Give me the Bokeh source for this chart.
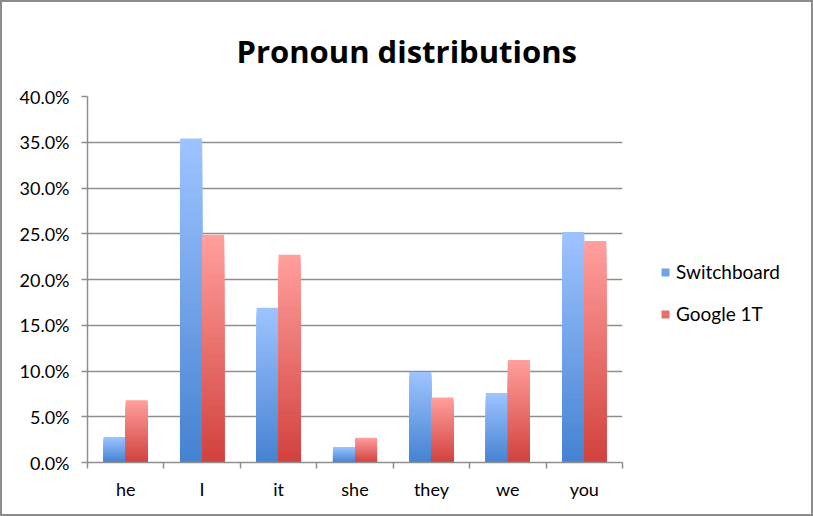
from bokeh.plotting import figure
from bokeh.models import (ColumnDataSource, FixedTicker, Legend, LegendItem, Range1d, Title)
from bokeh.embed import file_html
from bokeh.resources import INLINE

categories = ["he", "I", "it", "she", "they", "we", "you"]
switchboard = [2.8, 35.4, 16.9, 1.7, 9.9, 7.6, 25.2]
google_1t = [6.8, 24.9, 22.7, 2.7, 7.1, 11.2, 24.2]
series_names = ["Switchboard", "Google 1T"]
y_ticks = [0, 5, 10, 15, 20, 25, 30, 35, 40]

BLUE_TOP, BLUE_BOT = (157, 195, 255), (70, 131, 210)
RED_TOP, RED_BOT = (255, 158, 156), (210, 66, 62)
BAR_W = 0.288
N = 40
FONT = "Lato"
GRAY = "#8e8e8e"


def hexc(c):
    return "#%02x%02x%02x" % tuple(int(round(v)) for v in c)


def gradient_source(values, offset, top_c, bot_c):
    xs, tops, cols = [], [], []
    for i in range(N):
        t = i / (N - 1)
        col = hexc([a + (b - a) * t for a, b in zip(top_c, bot_c)])
        for k, v in enumerate(values):
            xs.append(k + 0.5 + offset)
            tops.append(v * (N - i) / N)
            cols.append(col)
    return ColumnDataSource(dict(x=xs, top=tops, color=cols))


p = figure(width=811, height=514, output_backend="svg", toolbar_location=None,
           x_range=Range1d(0, len(categories)), y_range=Range1d(0, 40),
           frame_width=535, frame_height=366,
           min_border_left=85, min_border_top=94, min_border_right=191, min_border_bottom=54)
p.styles = {"border": "2px solid #8c8c8c", "box-sizing": "border-box",
            "width": "813px", "height": "516px", "overflow": "hidden"}

src_b = gradient_source(switchboard, -BAR_W / 2, BLUE_TOP, BLUE_BOT)
src_r = gradient_source(google_1t, BAR_W / 2, RED_TOP, RED_BOT)
rb = p.vbar(x="x", top="top", bottom=0, width=BAR_W, color="color", source=src_b, line_width=0)
rr = p.vbar(x="x", top="top", bottom=0, width=BAR_W, color="color", source=src_r, line_width=0)

mid = (N // 2) * len(categories)
legend = Legend(items=[LegendItem(label=series_names[0], renderers=[rb], index=mid),
                       LegendItem(label=series_names[1], renderers=[rr], index=mid)],
                location=(38, 137), margin=0, padding=10, spacing=19,
                glyph_width=10, glyph_height=10, label_standoff=6,
                label_text_font=FONT, label_text_font_size="19px", label_text_color="#000000",
                border_line_color=None, background_fill_alpha=0)
p.add_layout(legend, "right")

title = Title(text="Pronoun distributions", align="left", offset=149,
              text_font="Open Sans", text_font_size="31px", text_font_style="bold",
              text_color="#000000", standoff=49)
p.add_layout(title, "above")

centers = [k + 0.5 for k in range(len(categories))]
bounds = [float(k) for k in range(len(categories) + 1)]
xa = p.xaxis[0]
xa.ticker = FixedTicker(ticks=centers, minor_ticks=bounds)
xa.major_label_overrides = {c: lab for c, lab in zip(centers, categories)}
xa.major_tick_out = 0
xa.major_tick_in = 0
xa.minor_tick_out = 6
xa.minor_tick_in = 0
xa.minor_tick_line_color = GRAY
xa.minor_tick_line_width = 1.5
xa.axis_line_color = GRAY
xa.axis_line_width = 1.5
xa.major_label_text_font = FONT
xa.major_label_text_font_size = "18px"
xa.major_label_text_color = "#000000"
xa.major_label_standoff = 9

ya = p.yaxis[0]
ya.ticker = FixedTicker(ticks=y_ticks)
ya.major_label_overrides = {t: "%.1f%%" % t for t in y_ticks}
ya.major_tick_out = 6
ya.major_tick_in = 0
ya.major_tick_line_color = GRAY
ya.major_tick_line_width = 1.5
ya.minor_tick_line_color = None
ya.axis_line_color = GRAY
ya.axis_line_width = 1.5
ya.major_label_text_font = FONT
ya.major_label_text_font_size = "18px"
ya.major_label_text_color = "#000000"
ya.major_label_standoff = 12

p.xgrid.grid_line_color = None
p.ygrid.ticker = FixedTicker(ticks=y_ticks)
p.ygrid.grid_line_color = GRAY
p.ygrid.grid_line_width = 1.5
p.outline_line_color = None
p.background_fill_color = "white"
p.border_fill_color = "white"

open("out.html", "w").write(file_html(p, INLINE))
